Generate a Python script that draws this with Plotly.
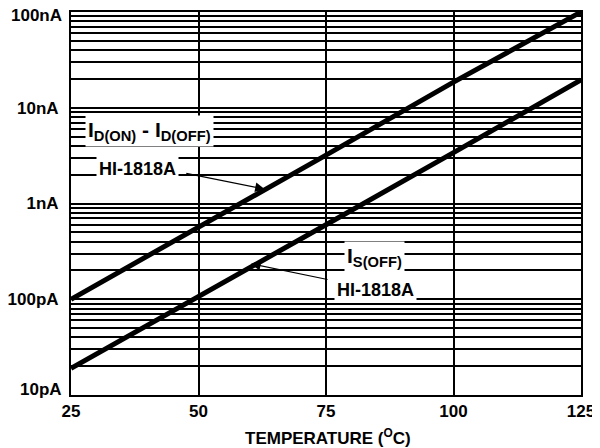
import plotly.graph_objects as go
import math

temperature = [25, 50, 75, 100, 125]
id_on_off = [1.0e-10, 5.6e-10, 3.2e-9, 1.85e-8, 1.0e-7]
is_off = [1.9e-11, 1.05e-10, 6.0e-10, 3.4e-9, 1.95e-8]

x_ticks = [25, 50, 75, 100, 125]
decades = [1e-11, 1e-10, 1e-9, 1e-8, 1e-7]
decade_labels = ["10pA", "100pA", "1nA", "10nA", "100nA"]

# gridlines at every 1..9 step per decade
y_tickvals, y_ticktext = [], []
for d, lab in zip(decades, decade_labels):
    y_tickvals.append(d)
    # end labels are drawn as shifted annotations (as in the reference)
    y_ticktext.append("" if d in (decades[0], decades[-1]) else "<b>%s</b>" % lab)
    if d < 1e-7:
        for m in range(2, 10):
            y_tickvals.append(d * m)
            y_ticktext.append("")

FONT = "Liberation Sans"
TICK_SIZE = 17

fig = go.Figure()
fig.add_trace(go.Scatter(x=temperature, y=id_on_off, mode="lines",
                         line=dict(color="black", width=5), showlegend=False))
fig.add_trace(go.Scatter(x=temperature, y=is_off, mode="lines",
                         line=dict(color="black", width=5), showlegend=False))

# page body has an 8px margin, so the figure is 8px smaller and shifted
fig.update_layout(
    width=592, height=440,
    margin=dict(l=63, r=19, t=4, b=53),
    paper_bgcolor="white", plot_bgcolor="white",
    font=dict(family=FONT, size=16, color="black"),
    showlegend=False,
)
fig.update_xaxes(
    range=[25, 125], tickvals=x_ticks,
    ticktext=["<b>%d</b>" % v for v in x_ticks],
    showgrid=True, gridcolor="black", gridwidth=2,
    showline=True, linecolor="black", linewidth=2, mirror=True,
    ticks="", zeroline=False, automargin=False, ticklabeloverflow="allow",
    tickfont=dict(family=FONT, size=17, color="black"),
)
fig.update_yaxes(
    type="log", range=[-11, -7],
    tickvals=y_tickvals, ticktext=y_ticktext,
    showgrid=True, gridcolor="black", gridwidth=2,
    showline=True, linecolor="black", linewidth=2, mirror=True,
    ticks="", zeroline=False, automargin=False, ticklabelstandoff=7,
    ticklabeloverflow="allow",
    tickfont=dict(family=FONT, size=TICK_SIZE, color="black"),
)

# end tick labels, nudged inward like the reference
for d, lab, shift in ((decades[-1], decade_labels[-1], -3), (decades[0], decade_labels[0], 6)):
    fig.add_annotation(x=0, y=math.log10(d), xref="paper", yref="y",
                       text="<b>%s</b>" % lab, showarrow=False,
                       xanchor="right", yanchor="middle", xshift=-7, yshift=shift,
                       font=dict(family=FONT, size=TICK_SIZE, color="black"))

# axis title as paper annotation
fig.add_annotation(x=(328 - 71) / 510, y=-(437 - 395) / 383, xref="paper", yref="paper",
                   text="<b>TEMPERATURE (<sup>O</sup>C)</b>", showarrow=False,
                   xanchor="center", yanchor="middle",
                   font=dict(family=FONT, size=17, color="black"))

def label(x, ylog, text, size=17):
    fig.add_annotation(x=x, y=ylog, xref="x", yref="y", text=text, showarrow=False,
                       bgcolor="white", borderpad=2,
                       font=dict(family=FONT, size=size, color="black"))

label(40.3, -8.24, "<b>I<sub>D(ON)</sub> - I<sub>D(OFF)</sub></b>", 21)
label(38.1, -8.64, "<b>HI-1818A</b>", 18)
label(84.5, -9.56, "<b>I<sub>S(OFF)</sub></b>", 21)
label(84.8, -9.90, "<b>HI-1818A</b>", 18)

fig.add_annotation(x=63.0, y=-8.85, xref="x", yref="y", text="", showarrow=True,
                   ax=-80, ay=-16, arrowhead=2, arrowsize=1.6, arrowwidth=1.2,
                   arrowcolor="black")
fig.add_annotation(x=60.3, y=-9.63, xref="x", yref="y", text="", showarrow=True,
                   ax=78, ay=16, arrowhead=2, arrowsize=1.6, arrowwidth=1.2,
                   arrowcolor="black")

fig.write_html("out.html")
